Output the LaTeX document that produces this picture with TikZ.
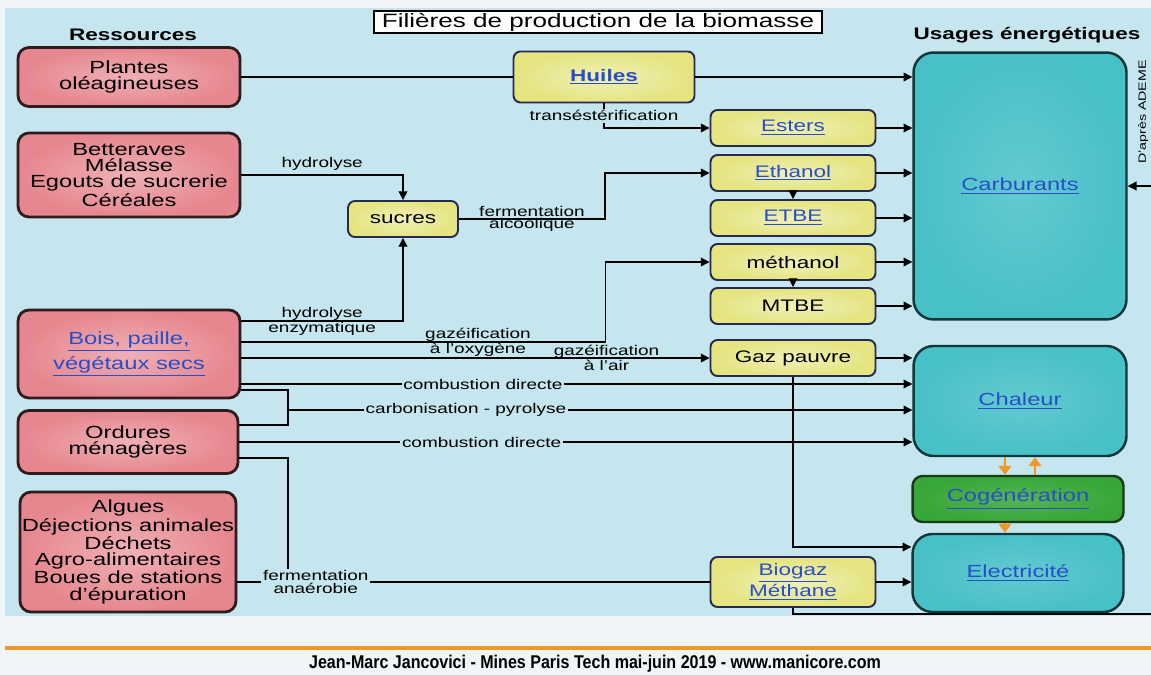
\documentclass[tikz,border=0pt]{standalone}
\usepackage{fontspec}
\setmainfont{Liberation Sans}[FakeStretch=1.35]
\newfontfamily\piedfont{Liberation Sans}[FakeStretch=0.87]
\usetikzlibrary{arrows.meta,positioning,calc}

\definecolor{fondbleu}{RGB}{197,230,238}
\definecolor{fondpied}{RGB}{240,245,247}
\definecolor{rose}{RGB}{230,134,142}
\definecolor{bordrose}{RGB}{48,28,30}
\definecolor{jaune}{RGB}{228,228,128}
\definecolor{bordjaune}{RGB}{40,40,80}
\definecolor{turquoise}{RGB}{72,192,200}
\definecolor{bordturq}{RGB}{16,56,58}
\definecolor{vertcog}{RGB}{56,166,56}
\definecolor{bordvert}{RGB}{24,60,24}
\definecolor{bleulien}{RGB}{40,78,200}
\definecolor{orangecog}{RGB}{243,150,40}

\newcommand{\lien}[1]{\textcolor{bleulien}{\underline{#1}}}

\tikzset{
  ressource/.style={draw=bordrose, line width=1.6pt, inner color=rose!65!white, outer color=rose,
    rounded corners=0.22cm, align=center, font=\fontsize{10}{9.2}\selectfont, inner sep=1pt},
  filiere/.style={draw=bordjaune, line width=1.1pt, inner color=jaune!55!white, outer color=jaune,
    rounded corners=0.14cm, align=center, font=\fontsize{9.5}{10}\selectfont,
    minimum width=3.3cm, minimum height=0.72cm, inner sep=1pt},
  usage/.style={draw=bordturq, line width=1.4pt, inner color=turquoise!85!white, outer color=turquoise,
    rounded corners=0.4cm, font=\fontsize{10}{10}\selectfont, minimum width=4.26cm},
  fleche/.style={-{Triangle[length=5pt,width=5pt]}, line width=0.7pt},
  trait/.style={line width=0.7pt},
  etiq/.style={font=\fontsize{8}{7}\selectfont, align=center, inner sep=1pt},
  etiqfond/.style={etiq, fill=fondbleu},
  cogfleche/.style={-{Triangle[length=5pt,width=7pt]}, draw=orangecog, line width=1.3pt},
}

\begin{document}
\begin{tikzpicture}[x=0.02cm, y=-0.02cm]
  \useasboundingbox (0,0) rectangle (1151,675);
  \fill[fondpied] (0,0) rectangle (1151,675);
  \fill[fondbleu] (5,8) rectangle (1151,616);
  \draw[orangecog, line width=2.2pt] (5,648) -- (1151,648);

  \node[draw, fill=white, line width=0.8pt, minimum width=8.96cm, minimum height=0.4cm, inner sep=1pt,
    font=\fontsize{11}{11}\selectfont] (titre) at (598,22) {Filières de production de la biomasse};
  \node[font=\fontsize{9.5}{10}\selectfont\bfseries] (hres) at (133,35) {Ressources};
  \node[font=\fontsize{9.5}{10}\selectfont\bfseries] (husages) at (1027,35) {Usages énergétiques};
  \node[rotate=90, font=\fontsize{6}{7}\selectfont, inner sep=0pt] (ademe) at (1143,112) {D'après ADEME};

  % ressources
  \node[ressource, minimum width=4.44cm, minimum height=1.18cm] (plantes) at (129,77) {Plantes\\oléagineuses};
  \node[ressource, minimum width=4.44cm, minimum height=1.68cm] (bett) at (129,175) {Betteraves\\Mélasse\\Egouts de sucrerie\\Céréales};
  \node[ressource, minimum width=4.44cm, minimum height=1.76cm] (bois) at (129,354) {\lien{Bois, paille,}\\[2pt]\lien{végétaux secs}};
  \node[ressource, minimum width=4.40cm, minimum height=1.26cm] (ordures) at (128,442) {Ordures\\ménagères};
  \node[ressource, minimum width=4.32cm, minimum height=2.4cm] (algues) at (128,552) {Algues\\Déjections animales\\Déchets\\Agro-alimentaires\\Boues de stations\\d'épuration};

  % filieres
  \node[filiere, minimum width=3.62cm, minimum height=1.02cm] (huiles) at (604,77) {\textbf{\lien{Huiles}}};
  \node[filiere, minimum width=2.2cm] (sucres) at (403,219) {sucres};
  \node[filiere] (esters) at (793,128) {\lien{Esters}};
  \node[filiere] (ethanol) at (793,173) {\lien{Ethanol}};
  \node[filiere] (etbe) at (793,218) {\lien{ETBE}};
  \node[filiere] (methanol) at (793,262) {méthanol};
  \node[filiere] (mtbe) at (793,306) {MTBE};
  \node[filiere] (gaz) at (793,358) {Gaz pauvre};
  \node[filiere, minimum height=1.0cm] (biogaz) at (793,582) {\lien{Biogaz}\\\lien{Méthane}};

  % usages
  \node[usage, minimum height=5.34cm] (carbu) at (1020,186) {\lien{Carburants}};
  \node[usage, minimum height=2.2cm] (chaleur) at (1020,401) {\lien{Chaleur}};
  \node[usage, minimum width=4.22cm, minimum height=0.92cm, rounded corners=0.2cm, draw=bordvert,
    inner color=vertcog!85!white, outer color=vertcog] (cogen) at (1018,499) {\lien{Cogénération}};
  \node[usage, minimum width=4.22cm, minimum height=1.56cm] (elec) at (1018,573) {\lien{Electricité}};

  \coordinate (b1) at ($(bois.east)+(0,-33)$);
  \coordinate (b2) at ($(bois.east)+(0,-12)$);
  \coordinate (b3) at ($(bois.east)+(0,4)$);
  \coordinate (b4) at ($(bois.east)+(0,30)$);
  \coordinate (b5) at ($(bois.east)+(0,36)$);
  \coordinate (o1) at ($(ordures.east)+(0,-17)$);
  \coordinate (o2) at ($(ordures.east)+(0,16)$);
  \coordinate (a1) at ($(algues.east)+(0,30)$);
  \coordinate (carbo) at (288,410);
  \coordinate (e1) at ($(elec.west)+(0,-26)$);
  \coordinate (retour) at (1165,614);

  \draw[trait] (plantes.east) -- (huiles.west);
  \draw[fleche] (huiles.east) -- (huiles.east -| carbu.west);
  \draw[fleche] (huiles.south) |- node[etiqfond, pos=0.25]{transéstérification} (esters.west);
  \draw[fleche] (esters.east) -- (esters.east -| carbu.west);
  \draw[fleche] (ethanol.east) -- (ethanol.east -| carbu.west);
  \draw[fleche] (etbe.east) -- (etbe.east -| carbu.west);
  \draw[fleche] (methanol.east) -- (methanol.east -| carbu.west);
  \draw[fleche] (mtbe.east) -- (mtbe.east -| carbu.west);
  \draw[fleche] (ethanol.south) -- (etbe.north);
  \draw[fleche] (methanol.south) -- (mtbe.north);

  \draw[fleche] (bett.east) -| node[etiq, pos=0.25, above=1pt]{hydrolyse} (sucres.north);
  \draw[fleche] (b1) -| node[etiq, pos=0.25]{hydrolyse\\enzymatique} (sucres.south);
  \draw[fleche] (sucres.east) -- node[etiq]{fermentation\\alcoolique} ++(146,0) |- (ethanol.west);
  \draw[fleche] (b2) -- node[etiq, pos=0.65]{gazéification\\à l'oxygène} ++(364,0) |- (methanol.west);
  \draw[fleche] (b3) -- node[etiq, pos=0.78]{gazéification\\à l'air} (b3 -| gaz.west);

  \draw[fleche] (gaz.east) -- (gaz.east -| chaleur.west);
  \draw[fleche] (gaz.south) |- (e1);
  \draw[fleche] (b4) -- node[etiqfond, pos=0.36]{combustion directe} (b4 -| chaleur.west);
  \draw[trait] (b5) -| (carbo) |- (o1);
  \draw[fleche] (carbo) -- node[etiqfond, pos=0.285]{carbonisation - pyrolyse} (carbo -| chaleur.west);
  \draw[fleche] (ordures.east) -- node[etiqfond, pos=0.36]{combustion directe} (ordures.east -| chaleur.west);

  \draw[trait] (o2) -| (carbo |- a1);
  \draw[trait] (a1) -- node[etiqfond, pos=0.166]{fermentation\\anaérobie} (a1 -| biogaz.west);
  \draw[fleche] (biogaz.east) -- (biogaz.east -| elec.west);
  \draw[fleche] (biogaz.south) |- (retour) |- (carbu.east);

  \draw[cogfleche] ($(chaleur.south)+(-15,0)$) -- ($(cogen.north)+(-13,0)$);
  \draw[cogfleche] ($(cogen.north)+(17,0)$) -- ($(chaleur.south)+(15,0)$);
  \draw[cogfleche] ($(cogen.south)+(-13,0)$) -- ($(elec.north)+(-13,0)$);

  \node[font=\piedfont\fontsize{10.5}{12}\selectfont\bfseries] (pied) at (595,664)
    {Jean-Marc Jancovici - Mines Paris Tech mai-juin 2019 - www.manicore.com};
\end{tikzpicture}
\end{document}
